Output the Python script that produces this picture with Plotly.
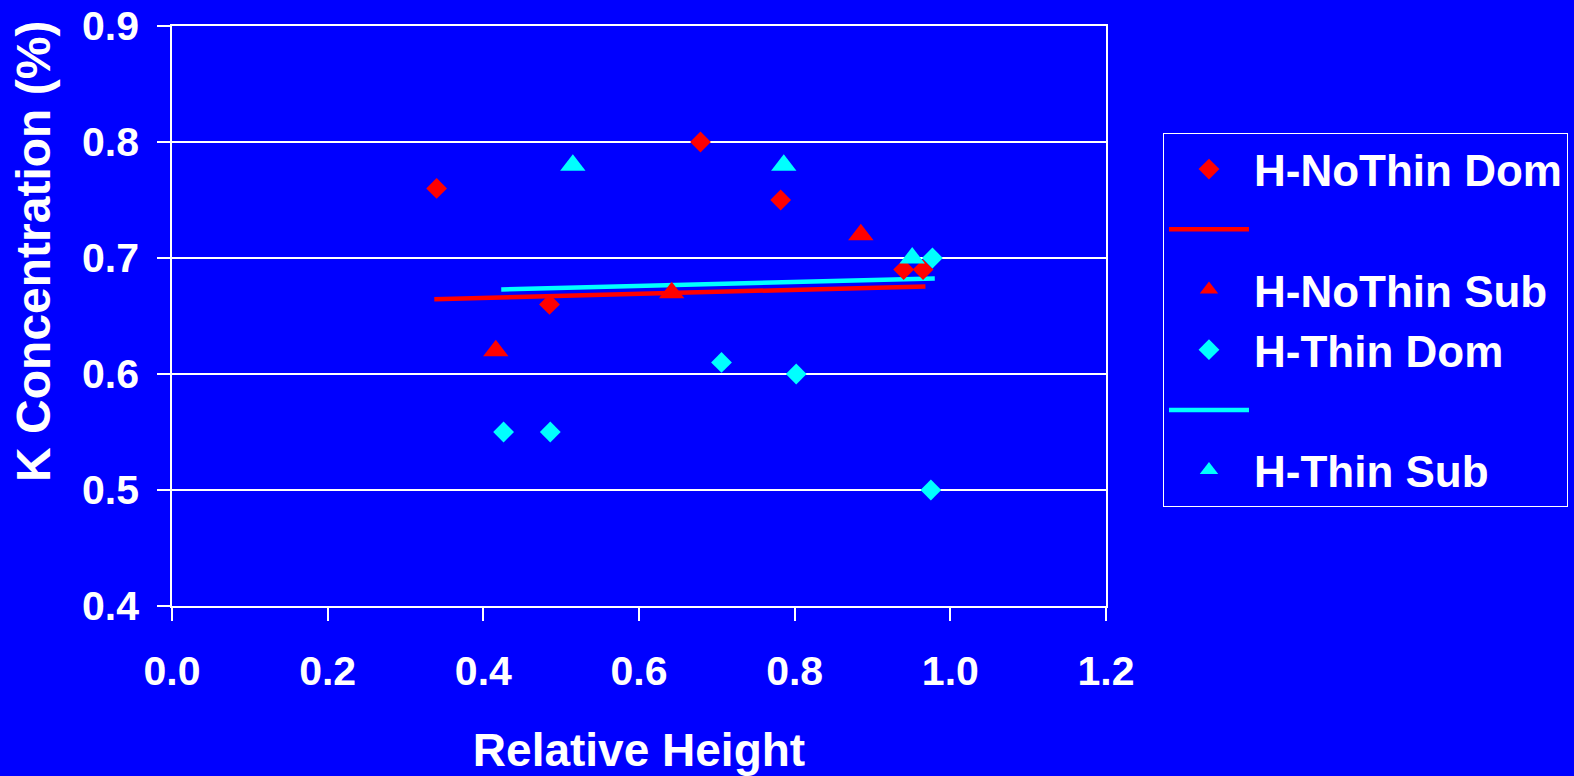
import plotly.graph_objects as go

# Relative height vs. K concentration, dominant and subordinate trees
nothin_dom_x = [0.34, 0.485, 0.679, 0.782, 0.94, 0.965]
nothin_dom_y = [0.76, 0.66, 0.80, 0.75, 0.69, 0.69]

nothin_sub_x = [0.416, 0.642, 0.885]
nothin_sub_y = [0.62, 0.67, 0.72]

thin_dom_x = [0.426, 0.486, 0.706, 0.802, 0.975, 0.977]
thin_dom_y = [0.55, 0.55, 0.61, 0.60, 0.50, 0.70]

thin_sub_x = [0.515, 0.786, 0.951]
thin_sub_y = [0.78, 0.78, 0.70]

# Linear trend lines (end points)
nothin_trend_x = [0.337, 0.968]
nothin_trend_y = [0.6645, 0.6755]
thin_trend_x = [0.423, 0.98]
thin_trend_y = [0.6729, 0.6824]

BG = "#0000FF"
RED = "#FF0000"
CYAN = "#00FFFF"
WHITE = "#FFFFFF"
FONT = "Liberation Sans, Arial, sans-serif"

fig = go.Figure()

fig.add_trace(go.Scatter(x=thin_trend_x, y=thin_trend_y, mode="lines", name=" ",
                         line=dict(color=CYAN, width=4.5), legendrank=5))
fig.add_trace(go.Scatter(x=nothin_trend_x, y=nothin_trend_y, mode="lines", name=" ",
                         line=dict(color=RED, width=4.5), legendrank=2))

fig.add_trace(go.Scatter(x=nothin_dom_x, y=nothin_dom_y, mode="markers", name="H-NoThin Dom",
                         marker=dict(symbol="diamond", size=16, color=RED, line=dict(width=0)),
                         legendrank=1))
fig.add_trace(go.Scatter(x=nothin_sub_x, y=nothin_sub_y, mode="markers", name="H-NoThin Sub",
                         marker=dict(symbol="triangle-up", size=22, color=RED, line=dict(width=0)),
                         legendrank=3))
fig.add_trace(go.Scatter(x=thin_dom_x, y=thin_dom_y, mode="markers", name="H-Thin Dom",
                         marker=dict(symbol="diamond", size=16, color=CYAN, line=dict(width=0)),
                         legendrank=4))
fig.add_trace(go.Scatter(x=thin_sub_x, y=thin_sub_y, mode="markers", name="H-Thin Sub",
                         marker=dict(symbol="triangle-up", size=22, color=CYAN, line=dict(width=0)),
                         legendrank=6))

axis_common = dict(
    showline=True, linecolor=WHITE, linewidth=1.5, mirror=True,
    ticks="outside", ticklen=13, tickwidth=1.5, tickcolor=WHITE,
    tickfont=dict(family=FONT, size=41, color=WHITE, weight="bold"),
    tickformat=".1f", zeroline=False, automargin=False,
)

fig.update_xaxes(range=[0, 1.2], dtick=0.2, tick0=0, showgrid=False,
                 ticklabelstandoff=15,
                 title=dict(text="Relative Height", standoff=43,
                            font=dict(family=FONT, size=46, color=WHITE, weight="bold")),
                 **axis_common)
fig.update_yaxes(range=[0.4, 0.9], dtick=0.1, tick0=0.4, showgrid=True,
                 gridcolor=WHITE, gridwidth=1.5, ticklabelstandoff=10,
                 **axis_common)

fig.add_annotation(text="K Concentration (%)", textangle=-90,
                   xref="paper", yref="paper", x=-0.1485, y=0.611,
                   xanchor="center", yanchor="middle", showarrow=False,
                   font=dict(family=FONT, size=48, color=WHITE, weight="bold"))

fig.update_layout(
    width=1574, height=776,
    margin=dict(l=172, r=468, t=26, b=170, autoexpand=False),
    paper_bgcolor=BG, plot_bgcolor=BG,
    showlegend=True,
    legend=dict(x=1.061, y=0.8155, xanchor="left", yanchor="top",
                bgcolor=BG, bordercolor=WHITE, borderwidth=1,
                itemwidth=80,
                font=dict(family=FONT, size=44, color=WHITE, weight="bold")),
)

fig.write_html("out.html")
